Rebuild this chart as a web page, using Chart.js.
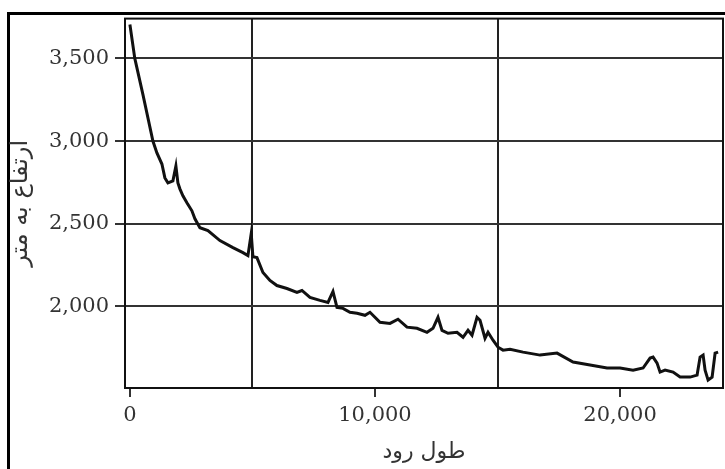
<!DOCTYPE html>
<html>
<head>
<meta charset="utf-8">
<script src="https://cdn.jsdelivr.net/npm/chart.js@4.4.1/dist/chart.umd.min.js"></script>
<style>
html,body{margin:0;padding:0;background:#fff;}
#wrap{position:relative;width:725px;height:469px;}
canvas{display:block;}
</style>
</head>
<body>
<div id="wrap"><canvas id="c" width="725" height="469"></canvas></div>
<script>
// River length (m) and elevation (m)
const riverLength = [0,200,530,939,1102,1306,1428,1551,1755,1877,1959,2040,2163,2326,2530,2653,2857,3184,3673,4204,4612,4816,4950,5020,5184,5429,5714,5999,6408,6816,7020,7347,7755,8082,8286,8449,8694,8980,9266,9592,9796,10204,10612,10939,11306,11714,12122,12367,12571,12735,12980,13347,13592,13796,13959,14163,14286,14490,14612,14816,15020,15224,15510,16041,16735,17429,18082,18776,19469,20000,20531,20939,21224,21347,21510,21633,21837,22163,22449,22857,23143,23265,23388,23469,23592,23755,23878,24000];
const elevation = [3705,3500,3283,3000,2928,2861,2777,2747,2759,2849,2747,2711,2669,2627,2578,2530,2476,2458,2398,2355,2325,2307,2440,2300,2295,2205,2157,2126,2108,2084,2096,2054,2036,2024,2090,1994,1988,1964,1958,1946,1964,1904,1897,1922,1874,1867,1843,1867,1934,1855,1837,1843,1813,1855,1825,1934,1916,1807,1843,1795,1753,1735,1740,1723,1705,1717,1663,1645,1627,1627,1614,1627,1687,1693,1657,1602,1614,1602,1572,1572,1584,1693,1705,1614,1554,1572,1717,1723];
const xTicks = [0,5000,10000,15000,20000];
const xLabelTicks = [0,10000,20000];
const xGridLines = [5000,15000];
const yTicks = [2000,2500,3000,3500];
const xTitle = 'طول رود';
const yTitle = 'ارتفاع به متر';

const points = riverLength.map((x,i)=>({x:x,y:elevation[i]}));
const fmt = v => Number(v).toLocaleString('en-US');

const framePlugin = {
  id:'frame',
  beforeDraw(chart){
    const ctx = chart.ctx;
    ctx.save();
    ctx.fillStyle = '#fff';
    ctx.fillRect(0,0,chart.width,chart.height);
    ctx.strokeStyle = '#000';
    ctx.lineWidth = 3;
    ctx.beginPath();
    ctx.moveTo(8.5,chart.height);
    ctx.lineTo(8.5,13.5);
    ctx.lineTo(chart.width,13.5);
    ctx.stroke();
    ctx.restore();
  },
  afterDraw(chart){
    const a = chart.chartArea, ctx = chart.ctx;
    ctx.save();
    ctx.strokeStyle = '#111';
    ctx.lineWidth = 2;
    ctx.strokeRect(a.left, a.top, a.right-a.left, a.bottom-a.top);
    ctx.restore();
  }
};

new Chart(document.getElementById('c'), {
  type:'line',
  data:{datasets:[{
    data:points,
    borderColor:'#111',
    borderWidth:3,
    pointRadius:0,
    tension:0,
    fill:false
  }]},
  options:{
    responsive:false,
    animation:false,
    events:[],
    layout:{padding:{top:17,right:2,bottom:0,left:0}},
    plugins:{legend:{display:false},tooltip:{enabled:false}},
    scales:{
      x:{
        type:'linear',
        min:-200,max:24200,
        afterBuildTicks:s=>{s.ticks = xTicks.map(v=>({value:v}));},
        afterFit:s=>{s.height = 81;},
        ticks:{
          autoSkip:false,maxRotation:0,
          padding:6,
          color:'#333',
          font:{family:'"DejaVu Serif", serif',size:21},
          callback:v=> xLabelTicks.includes(v) ? fmt(v) : ''
        },
        grid:{
          lineWidth:2,
          tickLength:9,
          color:c=> (c.tick && xGridLines.includes(c.tick.value)) ? '#222' : 'rgba(0,0,0,0)',
          tickColor:c=> (c.tick && xLabelTicks.includes(c.tick.value)) ? '#333' : 'rgba(0,0,0,0)'
        },
        border:{display:false},
        title:{display:true,text:xTitle,color:'#333',
          font:{family:'"DejaVu Sans", sans-serif',size:22},
          padding:{top:0,bottom:4}}
      },
      y:{
        type:'linear',
        min:1506,max:3741,
        afterBuildTicks:s=>{s.ticks = yTicks.map(v=>({value:v}));},
        afterFit:s=>{s.width = 125;},
        ticks:{
          padding:6,
          color:'#333',
          font:{family:'"DejaVu Serif", serif',size:21},
          callback:v=>fmt(v)
        },
        grid:{lineWidth:2,tickLength:10,color:'#333',tickColor:'#333'},
        border:{display:false},
        title:{display:true,text:yTitle,color:'#333',
          font:{family:'"DejaVu Sans", sans-serif',size:24},
          padding:{top:6,bottom:0}}
      }
    }
  },
  plugins:[framePlugin]
});
</script>
</body>
</html>
